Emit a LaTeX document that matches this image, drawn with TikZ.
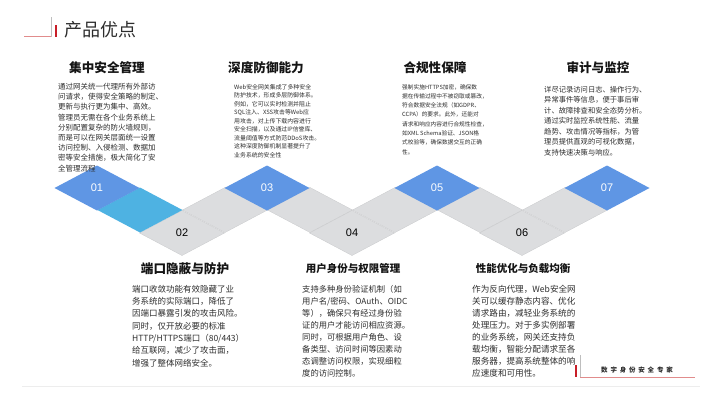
\documentclass[tikz,border=0pt]{standalone}
\usepackage{fontspec}
\setmainfont{Noto Sans CJK SC}
\newfontfamily\numfont{Liberation Sans}
\definecolor{blueD}{RGB}{95,150,228}
\definecolor{cyanD}{RGB}{78,178,226}
\definecolor{grayD}{RGB}{220,221,223}
\definecolor{edgeD}{RGB}{200,201,203}
\definecolor{bodyc}{RGB}{45,45,45}
\definecolor{titlec}{RGB}{20,20,20}
\definecolor{redbar}{RGB}{200,30,40}
\definecolor{redline}{RGB}{225,140,140}
\definecolor{vgray}{RGB}{190,190,190}
\newcommand\mydmd[3]{\fill[#3] (#1-42.5,#2) -- (#1,#2-22.5) -- (#1+42.5,#2) -- (#1,#2+22.5) -- cycle;}
\newcommand\mydmdg[2]{\filldraw[fill=grayD,draw=edgeD,line width=0.3pt] (#1-42.5,#2) -- (#1,#2-22.5) -- (#1+42.5,#2) -- (#1,#2+22.5) -- cycle;}
\begin{document}
\begin{tikzpicture}[x=1pt,y=-1pt,
  ttl/.style={font=\fontsize{12.6}{15}\selectfont\bfseries, text=titlec, inner sep=0},
  ttlsm/.style={font=\fontsize{10.5}{13}\selectfont\bfseries, text=titlec, inner sep=0},
  bodyt/.style={align=left, anchor=north west, inner sep=0, text=bodyc},
  numl/.style={font=\numfont\fontsize{11}{13}\selectfont, inner sep=0}]
\path[use as bounding box] (0,0) rectangle (720,407);
% header decoration
\draw[redline, line width=0.7pt] (24,36.5) -- (52,36.5);
\draw[vgray, line width=1pt] (51.5,17) -- (51.5,37);
\draw[redbar, line width=2pt] (56,25) -- (56,37);
\node[font=\fontsize{18}{21}\selectfont, text=bodyc, anchor=west, inner sep=0] (hdr) at (64,30) {产品优点};
% diamonds chain
\mydmdg{182}{233}
\mydmdg{225}{210}
\mydmdg{310}{210}
\mydmdg{352}{233}
\mydmdg{395}{210}
\mydmdg{480}{210}
\mydmdg{522}{233}
\mydmdg{565}{210}
\mydmd{140}{210}{cyanD}
\mydmd{97}{188}{blueD}
\mydmd{267}{188}{blueD}
\mydmd{437}{188}{blueD}
\mydmd{607}{188}{blueD}
\node[numl, text=white] (n01) at (97,188) {01};
\node[numl, text=black] (n02) at (182,233) {02};
\node[numl, text=white] (n03) at (267,188) {03};
\node[numl, text=black] (n04) at (352,233) {04};
\node[numl, text=white] (n05) at (437,188) {05};
\node[numl, text=black] (n06) at (522,233) {06};
\node[numl, text=white] (n07) at (607,188) {07};
% top titles
\node[ttl] (t1) at (107,68) {集中安全管理};
\node[ttl] (t3) at (266,68) {深度防御能力};
\node[ttl] (t5) at (435,68) {合规性保障};
\node[ttl] (t7) at (598,68) {审计与监控};
% top bodies
\node[bodyt, font=\fontsize{7.5}{10.2}\selectfont] (b1) at (58,83) {通过网关统一代理所有外部访\\问请求，使得安全策略的制定、\\更新与执行更为集中、高效。\\管理员无需在各个业务系统上\\分别配置复杂的防火墙规则，\\而是可以在网关层面统一设置\\访问控制、入侵检测、数据加\\密等安全措施，极大简化了安\\全管理流程};
\node[bodyt, font=\fontsize{5.9}{8.5}\selectfont] (b3) at (234,84) {Web安全网关集成了多种安全\\防护技术，形成多层防御体系。\\例如，它可以实时检测并阻止\\SQL注入、XSS攻击等Web应\\用攻击，对上传下载内容进行\\安全扫描，以及通过IP信誉库、\\流量阈值等方式防范DDoS攻击。\\这种深度防御机制显著提升了\\业务系统的安全性};
\node[bodyt, font=\fontsize{5.7}{9.3}\selectfont] (b5) at (402,84) {强制实施HTTPS加密，确保数\\据在传输过程中不被窃取或篡改，\\符合数据安全法规（如GDPR、\\CCPA）的要求。此外，还能对\\请求和响应内容进行合规性检查，\\如XML Schema验证、JSON格\\式校验等，确保数据交互的正确\\性。};
\node[bodyt, font=\fontsize{7.3}{10.5}\selectfont] (b7) at (544,86) {详尽记录访问日志、操作行为、\\异常事件等信息，便于事后审\\计、故障排查和安全态势分析。\\通过实时监控系统性能、流量\\趋势、攻击情况等指标，为管\\理员提供直观的可视化数据，\\支持快速决策与响应。};
% bottom titles
\node[ttl] (t2) at (185,269) {端口隐蔽与防护};
\node[ttlsm] (t4) at (353,269) {用户身份与权限管理};
\node[ttlsm] (t6) at (523,269) {性能优化与负载均衡};
% bottom bodies
\node[bodyt, font=\fontsize{8.5}{12.3}\selectfont] (b2) at (132,285) {端口收敛功能有效隐藏了业\\务系统的实际端口，降低了\\因端口暴露引发的攻击风险。\\同时，仅开放必要的标准\\HTTP/HTTPS端口（80/443）\\给互联网，减少了攻击面，\\增强了整体网络安全。};
\node[bodyt, font=\fontsize{8.3}{12}\selectfont] (b4) at (302,285) {支持多种身份验证机制（如\\用户名/密码、OAuth、OIDC\\等），确保只有经过身份验\\证的用户才能访问相应资源。\\同时，可根据用户角色、设\\备类型、访问时间等因素动\\态调整访问权限，实现细粒\\度的访问控制。};
\node[bodyt, font=\fontsize{8.6}{12}\selectfont] (b6) at (472,285) {作为反向代理，Web安全网\\关可以缓存静态内容、优化\\请求路由，减轻业务系统的\\处理压力。对于多实例部署\\的业务系统，网关还支持负\\载均衡，智能分配请求至各\\服务器，提高系统整体的响\\应速度和可用性。};
% footer
\draw[black!7, line width=0.6pt] (22,386) -- (700,386);
\draw[vgray, line width=1pt] (580,355) -- (580,377);
\draw[redbar, line width=2pt] (576,365) -- (576,377);
\draw[redline, line width=0.7pt] (580,377) -- (695,377);
\node[font=\fontsize{6.5}{8}\selectfont\bfseries, text=bodyc, inner sep=0] (ft) at (637,370) {数\hspace{2.8pt}字\hspace{2.8pt}身\hspace{2.8pt}份\hspace{2.8pt}安\hspace{2.8pt}全\hspace{2.8pt}专\hspace{2.8pt}家};
\end{tikzpicture}
\end{document}
